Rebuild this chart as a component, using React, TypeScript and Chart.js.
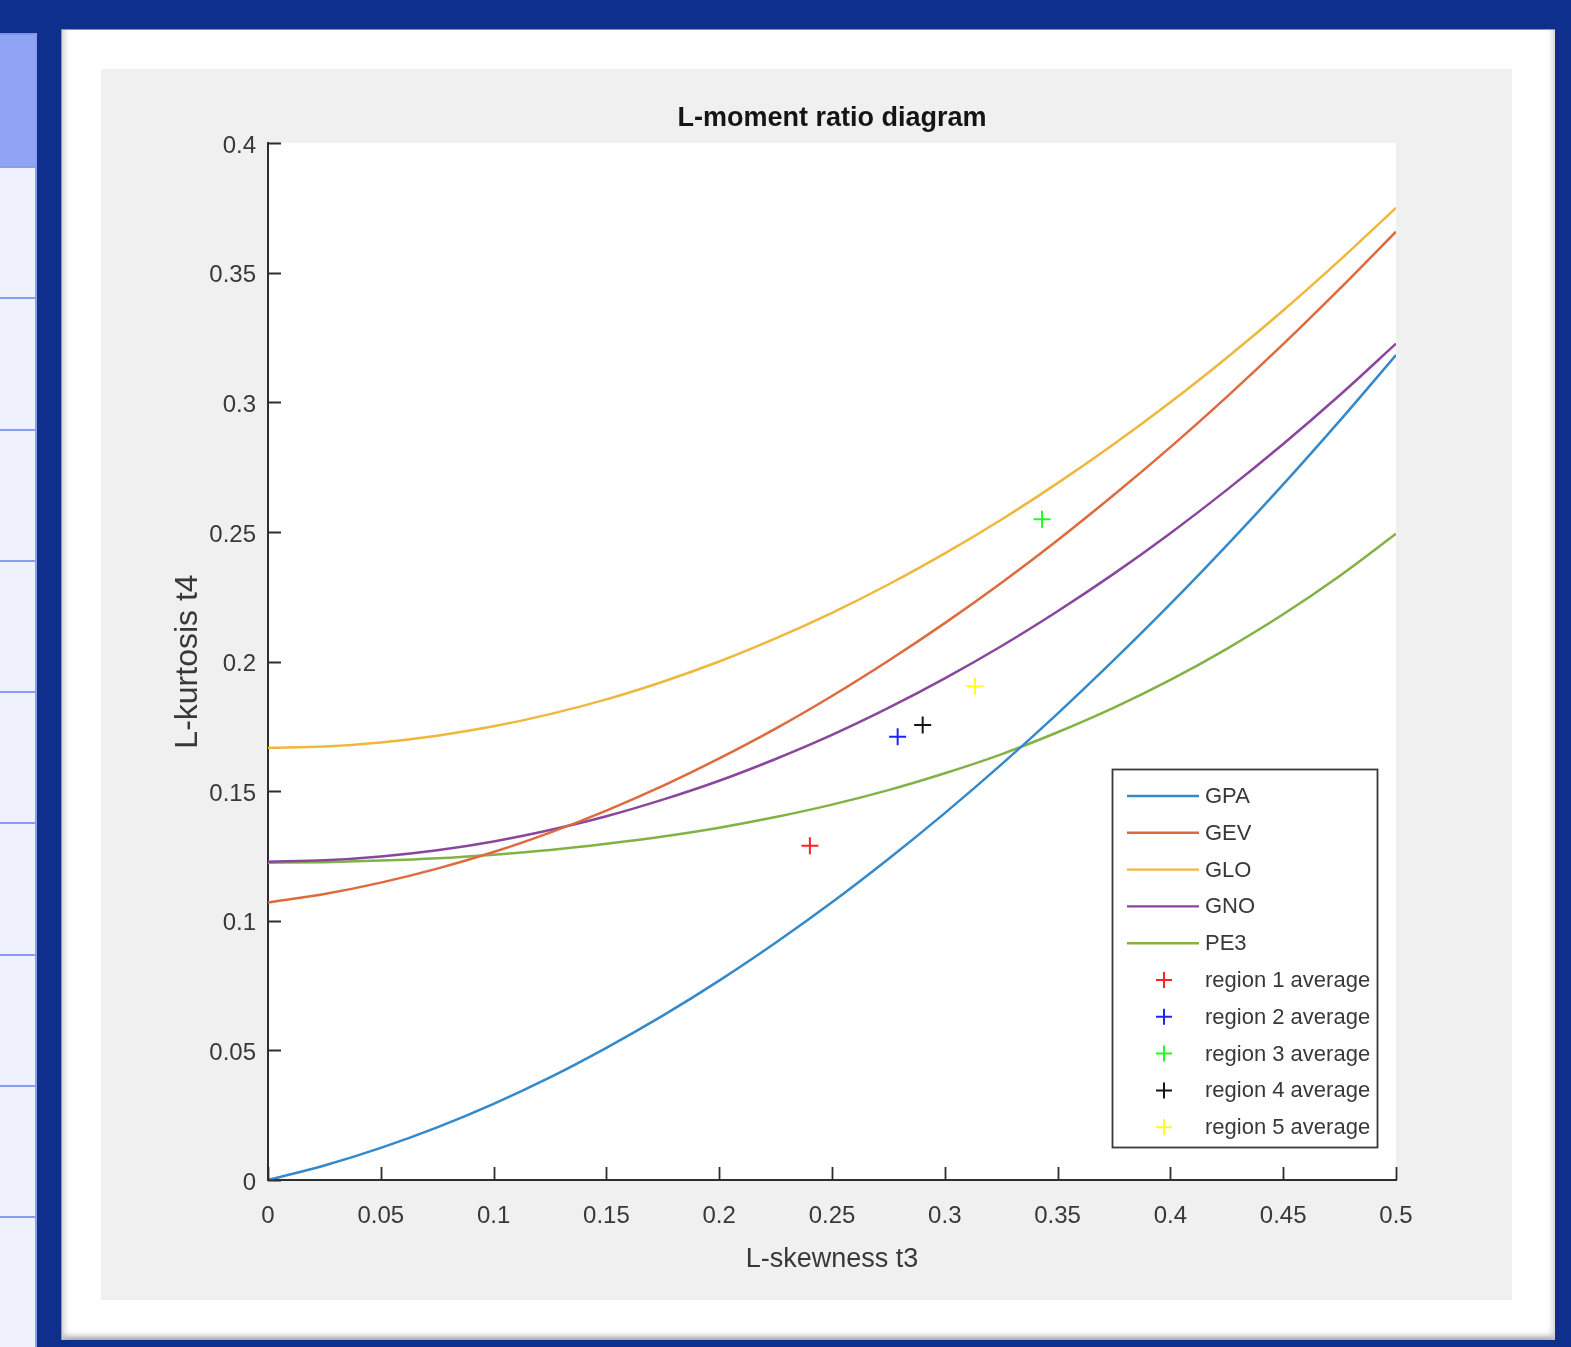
import React, { useEffect, useRef } from "react";
import { Chart, registerables } from "chart.js";

Chart.register(...registerables);

// ---------------- data ----------------
const chartTitle = "L-moment ratio diagram";
const xAxisTitle = "L-skewness t3";
const yAxisTitle = "L-kurtosis t4";

const t3Grid = [
  0, 0.025, 0.05, 0.075, 0.1, 0.125, 0.15, 0.175, 0.2, 0.225, 0.25, 0.275, 0.3,
  0.325, 0.35, 0.375, 0.4, 0.425, 0.45, 0.475, 0.5,
];
const gpaT4 = [
  0, 0.0056, 0.0124, 0.0203, 0.0294, 0.0396, 0.051, 0.0634, 0.0769, 0.0915,
  0.1071, 0.1238, 0.1415, 0.1602, 0.1799, 0.2006, 0.2222, 0.2448, 0.2683,
  0.2928, 0.3182,
];
const gevT4 = [
  0.107, 0.1103, 0.1147, 0.1201, 0.1265, 0.134, 0.1425, 0.152, 0.1626, 0.1741,
  0.1867, 0.2003, 0.2148, 0.2303, 0.2468, 0.2643, 0.2827, 0.3021, 0.3224,
  0.3437, 0.3658,
];
const gloT4 = [
  0.1667, 0.1672, 0.1688, 0.1714, 0.175, 0.1797, 0.1854, 0.1922, 0.2, 0.2089,
  0.2188, 0.2297, 0.2417, 0.2547, 0.2688, 0.2839, 0.3, 0.3172, 0.3354, 0.3547,
  0.375,
];
const gnoT4 = [
  0.1228, 0.1233, 0.1248, 0.1272, 0.1306, 0.135, 0.1403, 0.1467, 0.154, 0.1624,
  0.1717, 0.1821, 0.1935, 0.2059, 0.2194, 0.2339, 0.2495, 0.2662, 0.2839,
  0.3027, 0.3226,
];
const pe3T4 = [
  0.1224, 0.1226, 0.1232, 0.1241, 0.1255, 0.1273, 0.1297, 0.1325, 0.1359,
  0.14, 0.1448, 0.1504, 0.1569, 0.1642, 0.1727, 0.1822, 0.1929, 0.2049, 0.2182,
  0.233, 0.2493,
];
const curveNames = ["GPA", "GEV", "GLO", "GNO", "PE3"];
const curveValues = [gpaT4, gevT4, gloT4, gnoT4, pe3T4];
const curveColors = ["#3489cb", "#de6a3e", "#efb83d", "#8a469d", "#82b244"];

const regionNames = [
  "region 1 average",
  "region 2 average",
  "region 3 average",
  "region 4 average",
  "region 5 average",
];
const regionT3 = [0.2402, 0.2791, 0.3431, 0.2902, 0.3134];
const regionT4 = [0.1289, 0.171, 0.2549, 0.1755, 0.1905];
const regionColors = ["#ff2222", "#2222ff", "#22ff22", "#161616", "#ffff22"];

const xTicks = [0, 0.05, 0.1, 0.15, 0.2, 0.25, 0.3, 0.35, 0.4, 0.45, 0.5];
const xTickLabels = ["0", "0.05", "0.1", "0.15", "0.2", "0.25", "0.3", "0.35", "0.4", "0.45", "0.5"];
const yTicks = [0, 0.05, 0.1, 0.15, 0.2, 0.25, 0.3, 0.35, 0.4];
const yTickLabels = ["0", "0.05", "0.1", "0.15", "0.2", "0.25", "0.3", "0.35", "0.4"];

// ---------------- styling ----------------
const FONT = '"Liberation Sans", Arial, Helvetica, sans-serif';
const TEXT = "#383838";
const AXIS = "#2e2e2e";

const bgPlugin = {
  id: "bgPlugin",
  beforeDraw(chart: any) {
    const { ctx, chartArea, width, height } = chart;
    ctx.save();
    ctx.fillStyle = "#f0f0f0";
    ctx.fillRect(0, 0, width, height);
    ctx.fillStyle = "#ffffff";
    ctx.fillRect(chartArea.left, chartArea.top, chartArea.right - chartArea.left, chartArea.bottom - chartArea.top);
    ctx.restore();
  },
};

const tickPlugin = {
  id: "tickPlugin",
  afterDatasetsDraw(chart: any) {
    const { ctx, chartArea } = chart;
    const xs = chart.scales.x;
    const ys = chart.scales.y;
    const len = 13;
    ctx.save();
    ctx.strokeStyle = AXIS;
    ctx.lineWidth = 1.8;
    ctx.beginPath();
    xs.ticks.forEach((t: any) => {
      const px = Math.round(xs.getPixelForValue(t.value)) + 0.5;
      ctx.moveTo(px, chartArea.bottom);
      ctx.lineTo(px, chartArea.bottom - len);
    });
    ys.ticks.forEach((t: any) => {
      const py = Math.round(ys.getPixelForValue(t.value)) + 0.5;
      ctx.moveTo(chartArea.left, py);
      ctx.lineTo(chartArea.left + len, py);
    });
    ctx.stroke();
    ctx.restore();
  },
};

const titlePlugin = {
  id: "titlePlugin",
  afterDraw(chart: any) {
    const { ctx, chartArea } = chart;
    ctx.save();
    ctx.font = `bold 27px ${FONT}`;
    ctx.fillStyle = "#151515";
    ctx.textAlign = "center";
    ctx.textBaseline = "alphabetic";
    ctx.fillText(chartTitle, (chartArea.left + chartArea.right) / 2, chartArea.top - 17);
    ctx.restore();
  },
};

const legendPlugin = {
  id: "legendPlugin",
  afterDraw(chart: any) {
    const { ctx, chartArea } = chart;
    const right = chartArea.right - 19;
    const left = right - 265;
    const top = chartArea.bottom - 411;
    const bottom = chartArea.bottom - 33;
    ctx.save();
    ctx.fillStyle = "#ffffff";
    ctx.fillRect(left, top, right - left, bottom - top);
    ctx.strokeStyle = "#3a3a3a";
    ctx.lineWidth = 1.8;
    ctx.strokeRect(left + 0.5, top + 0.5, right - left, bottom - top);
    ctx.font = `22px ${FONT}`;
    ctx.textBaseline = "middle";
    ctx.textAlign = "left";
    const rowH = 36.8;
    const firstY = top + 27;
    const items = [
      ...curveNames.map((n, i) => ({ name: n, color: curveColors[i], kind: "line" })),
      ...regionNames.map((n, i) => ({ name: n, color: regionColors[i], kind: "cross" })),
    ];
    items.forEach((it, i) => {
      const y = firstY + i * rowH;
      ctx.strokeStyle = it.color;
      if (it.kind === "line") {
        ctx.lineWidth = 2.4;
        ctx.beginPath();
        ctx.moveTo(left + 15, y);
        ctx.lineTo(left + 87, y);
        ctx.stroke();
      } else {
        const cx = left + 52;
        ctx.lineWidth = 2;
        ctx.beginPath();
        ctx.moveTo(cx - 8, y);
        ctx.lineTo(cx + 8, y);
        ctx.moveTo(cx, y - 8);
        ctx.lineTo(cx, y + 8);
        ctx.stroke();
      }
      ctx.fillStyle = TEXT;
      ctx.fillText(it.name, left + 93, y + 1);
    });
    ctx.restore();
  },
};

export default function App() {
  const canvasRef = useRef<HTMLCanvasElement | null>(null);

  useEffect(() => {
    if (!canvasRef.current) return;
    const curveSets = curveNames.map((name, i) => ({
      type: "scatter" as const,
      label: name,
      data: t3Grid.map((x, j) => ({ x, y: curveValues[i][j] })),
      showLine: true,
      borderColor: curveColors[i],
      backgroundColor: curveColors[i],
      borderWidth: 2.5,
      pointRadius: 0,
      cubicInterpolationMode: "monotone" as const,
      fill: false,
    }));
    const regionSets = regionNames.map((name, i) => ({
      type: "scatter" as const,
      label: name,
      data: [{ x: regionT3[i], y: regionT4[i] }],
      showLine: false,
      borderColor: regionColors[i],
      backgroundColor: regionColors[i],
      pointStyle: "cross" as const,
      pointRadius: 8.5,
      pointBorderWidth: 2,
      borderWidth: 2,
    }));

    const chart = new Chart(canvasRef.current, {
      type: "scatter",
      data: { datasets: [...curveSets, ...regionSets] as any },
      options: {
        animation: false,
        responsive: false,
        devicePixelRatio: 1,
        events: [],
        layout: { padding: { top: 74, right: 115, left: 0, bottom: 0 } },
        plugins: {
          legend: { display: false },
          tooltip: { enabled: false },
          title: { display: false },
        },
        scales: {
          x: {
            type: "linear",
            position: "bottom",
            min: 0,
            max: 0.5,
            grid: { display: false, drawTicks: false },
            border: { display: true, color: AXIS, width: 2 },
            afterBuildTicks: (s: any) => {
              s.ticks = xTicks.map((v) => ({ value: v }));
            },
            afterFit: (s: any) => {
              s.height = 120;
            },
            ticks: {
              autoSkip: false,
              maxRotation: 0,
              padding: 22,
              color: TEXT,
              font: { family: FONT, size: 24 },
              callback: (_v: any, i: number) => xTickLabels[i],
            },
            title: {
              display: true,
              text: xAxisTitle,
              color: TEXT,
              font: { family: FONT, size: 27 },
              padding: { top: 0, bottom: 24 },
            },
          },
          y: {
            type: "linear",
            position: "left",
            min: 0,
            max: 0.4,
            grid: { display: false, drawTicks: false },
            border: { display: true, color: AXIS, width: 2 },
            afterBuildTicks: (s: any) => {
              s.ticks = yTicks.map((v) => ({ value: v }));
            },
            afterFit: (s: any) => {
              s.width = 167;
            },
            ticks: {
              autoSkip: false,
              padding: 12,
              labelOffset: 3,
              color: TEXT,
              font: { family: FONT, size: 24 },
              callback: (_v: any, i: number) => yTickLabels[i],
            },
            title: {
              display: true,
              text: yAxisTitle,
              color: TEXT,
              font: { family: FONT, size: 32 },
              padding: { top: 68, bottom: 0 },
            },
          },
        },
      },
      plugins: [bgPlugin, tickPlugin, titlePlugin, legendPlugin],
    } as any);
    return () => chart.destroy();
  }, []);

  const rowLines = [166, 297, 429, 560, 691, 822, 954, 1085, 1216];

  return (
    <div
      style={{
        position: "absolute",
        left: 0,
        top: 0,
        width: 1571,
        height: 1347,
        overflow: "hidden",
        background: "#0e2f8c",
      }}
    >
      {/* left side panel */}
      <div
        style={{
          position: "absolute",
          left: 0,
          top: 33,
          width: 35,
          height: 1314,
          background: "#eff1fd",
          borderRight: "2px solid #8a9cf2",
        }}
      />
      <div
        style={{
          position: "absolute",
          left: 0,
          top: 33,
          width: 35,
          height: 133,
          background: "#8fa4f2",
          borderTop: "2px solid #7f93ee",
        }}
      />
      {rowLines.map((y) => (
        <div
          key={y}
          style={{ position: "absolute", left: 0, top: y, width: 36, height: 2, background: "#8a9cf2" }}
        />
      ))}
      {/* white panel */}
      <div
        style={{
          position: "absolute",
          left: 61,
          top: 29,
          width: 1493,
          height: 1310,
          background: "#ffffff",
          borderTop: "1px solid #8a93b0",
          borderLeft: "1px solid #8a93b0",
          boxShadow:
            "inset 8px 0 6px -6px #c8c8c8, inset -8px 0 6px -6px #c8c8c8, inset 0 -9px 6px -6px #9a9a9a",
        }}
      />
      {/* figure area with chart */}
      <div
        style={{
          position: "absolute",
          left: 101,
          top: 69,
          width: 1411,
          height: 1231,
          background: "#f0f0f0",
        }}
      >
        <canvas ref={canvasRef} width={1410} height={1231} style={{ display: "block", width: 1410, height: 1231 }} />
      </div>
    </div>
  );
}
